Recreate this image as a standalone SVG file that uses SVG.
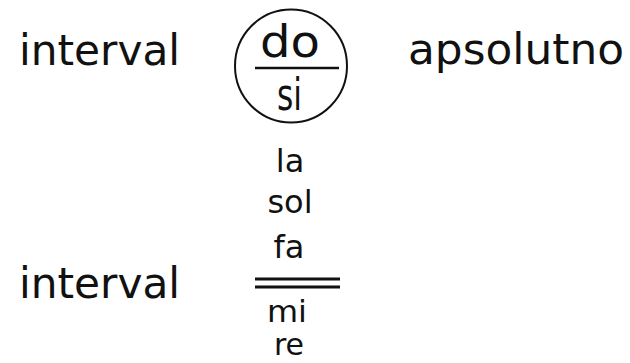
<svg xmlns="http://www.w3.org/2000/svg" width="630" height="363" viewBox="0 0 630 363">
<style>
text{font-family:"DejaVu Sans","Liberation Sans",sans-serif;fill:#111;}
.big{font-size:42px;}
.mid{font-size:44px;}
.sm{font-size:32px;text-anchor:middle;}
.xs{font-size:30px;text-anchor:middle;}
.ln{stroke:#111;fill:none;}
</style>
<rect width="630" height="363" fill="#fff"/>
<g id="label-interval-top"><text class="big" x="19" y="65" textLength="161" lengthAdjust="spacingAndGlyphs">interval</text></g>
<g id="node-circle">
<ellipse class="ln" cx="291" cy="66" rx="56" ry="56.5" stroke-width="2"/>
<text class="mid" x="260" y="57" textLength="60" lengthAdjust="spacingAndGlyphs">do</text>
<text class="mid" x="277" y="110" textLength="25" lengthAdjust="spacingAndGlyphs">si</text>
</g>
<g id="label-apsolutno"><text class="big" x="408" y="64" textLength="216" lengthAdjust="spacingAndGlyphs">apsolutno</text></g>
<g id="label-interval-bottom"><text class="big" x="19" y="298" textLength="161" lengthAdjust="spacingAndGlyphs">interval</text></g>
<g id="stack">
<text class="sm" x="290" y="172">la</text>
<text class="sm" x="290" y="213">sol</text>
<text class="sm" x="289" y="258">fa</text>
<text class="xs" x="287" y="322" textLength="40" lengthAdjust="spacingAndGlyphs">mi</text>
<text class="xs" x="289" y="355">re</text>
</g>
<g id="connectors">
<line class="ln" x1="255" y1="68" x2="339" y2="68" stroke-width="2.5"/>
<line class="ln" x1="255" y1="279" x2="340" y2="279" stroke-width="3"/>
<line class="ln" x1="255" y1="287" x2="340" y2="287" stroke-width="3"/>
</g>
</svg>
